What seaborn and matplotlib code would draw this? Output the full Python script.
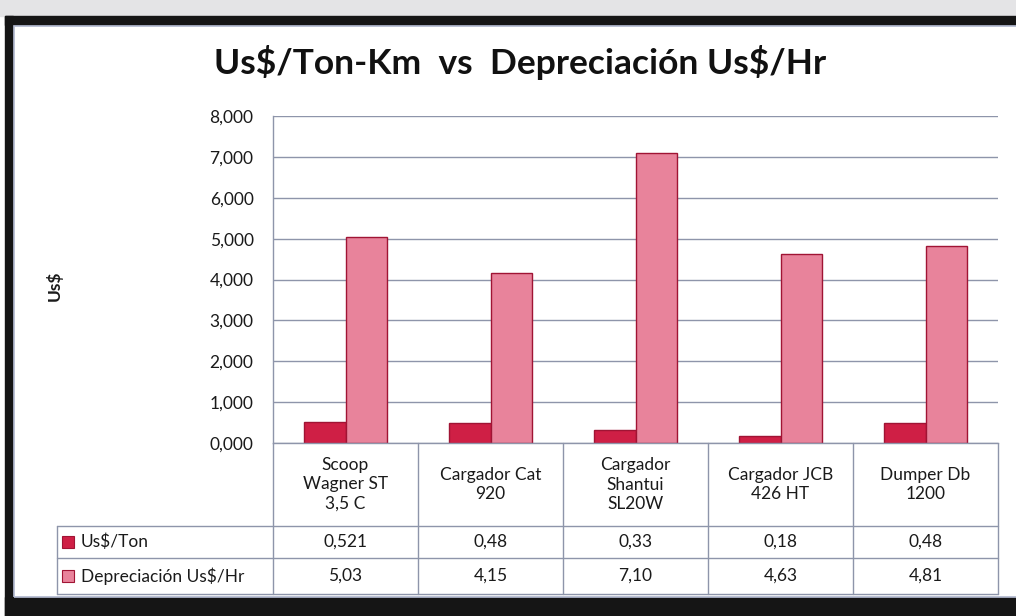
import matplotlib
matplotlib.use("Agg")
import matplotlib.pyplot as plt
from matplotlib.patches import Rectangle
import seaborn as sns
import pandas as pd

equipos = ["Scoop\nWagner ST\n3,5 C", "Cargador Cat\n920", "Cargador\nShantui\nSL20W",
           "Cargador JCB\n426 HT", "Dumper Db\n1200"]
series = ["Us$/Ton", "Depreciación Us$/Hr"]
us_ton = [0.521, 0.48, 0.33, 0.18, 0.48]
depreciacion = [5.03, 4.15, 7.10, 4.63, 4.81]
y_ticks = [0, 1, 2, 3, 4, 5, 6, 7, 8]

df = pd.DataFrame({
    "equipo": equipos * 2,
    "serie": [series[0]] * 5 + [series[1]] * 5,
    "valor": us_ton + depreciacion,
})

sns.set_style("white")
plt.rcParams["font.family"] = ["Lato", "DejaVu Sans"]
plt.rcParams["text.parse_math"] = False

W, H = 1016, 616
fig = plt.figure(figsize=(W / 100, H / 100), dpi=100)


def fx(px):
    return px / W


def fy(py):
    return 1 - py / H


# photo frame (paper at top, black border of the chart box)
fig.patches.append(Rectangle((0, fy(16)), 1, 16 / H, transform=fig.transFigure, color="#e4e4e6", zorder=0))
fig.patches.append(Rectangle((fx(5), 0), 8 / W, fy(16), transform=fig.transFigure, color="#151515", zorder=0))
fig.patches.append(Rectangle((fx(5), fy(25)), 1, 9 / H, transform=fig.transFigure, color="#151515", zorder=0))
fig.patches.append(Rectangle((fx(5), 0), 1, 19 / H, transform=fig.transFigure, color="#151515", zorder=0))
fig.patches.append(Rectangle((fx(14), fy(597)), 1, (597 - 26) / H, transform=fig.transFigure,
                             fill=False, edgecolor="#b8bfd6", linewidth=1.2, zorder=1))

left, right, top, bottom = 273, 998, 116, 443
ax = fig.add_axes([fx(left), fy(bottom), (right - left) / W, (bottom - top) / H])

rojo, rosa = "#cf1f45", "#e8839b"
sns.barplot(data=df, x="equipo", y="valor", hue="serie", palette=[rojo, rosa], saturation=1,
            width=0.57, gap=0, edgecolor="#a01434", linewidth=1.0, legend=False, ax=ax)

ax.set_xlim(-0.5, 4.5)
ax.set_ylim(0, 8)
ax.set_yticks(y_ticks)
ax.set_yticklabels([f"{t:.3f}".replace(".", ",") for t in y_ticks], fontsize=12.5, color="#1a1a1a")
ax.tick_params(axis="y", length=0, pad=14)
ax.set_xticks([])
ax.set_xlabel("")
ax.set_ylabel("")
ax.yaxis.grid(True, color="#8e95aa", linewidth=1.0)
ax.set_axisbelow(True)
for s in ["top", "right"]:
    ax.spines[s].set_visible(False)
for s in ["left", "bottom"]:
    ax.spines[s].set_color("#8e95aa")
    ax.spines[s].set_linewidth(1.0)

fig.text(fx(520), fy(62), "Us$/Ton-Km  vs  Depreciación Us$/Hr", fontsize=25.5, fontweight="bold",
         ha="center", va="center", color="#111111")
fig.text(fx(54), fy(286), "Us$", rotation=90, fontsize=12.5, fontweight="bold", ha="center", va="center",
         color="#1a1a1a")

# data table under the plot
tr = ax.get_xaxis_transform()
ax_h = bottom - top


def ya(py):
    return (bottom - py) / ax_h


grid_kw = dict(color="#8e95aa", linewidth=1.0, transform=tr, clip_on=False)
y_head, y_r1, y_r2 = ya(526), ya(558), ya(594)
x_lab = -0.5 - (left - 57) / 145
for i in range(6):
    ax.plot([i - 0.5, i - 0.5], [0, y_r2], **grid_kw)
ax.plot([x_lab, 4.5], [y_head, y_head], **grid_kw)
ax.plot([x_lab, 4.5], [y_r1, y_r1], **grid_kw)
ax.plot([x_lab, 4.5], [y_r2, y_r2], **grid_kw)
ax.plot([x_lab, x_lab], [y_head, y_r2], **grid_kw)

for i, eq in enumerate(equipos):
    ax.text(i, (0 + y_head) / 2, eq, transform=tr, ha="center", va="center", fontsize=12.5,
            linespacing=1.25, color="#1a1a1a", clip_on=False)
    ax.text(i, (y_head + y_r1) / 2, f"{us_ton[i]:g}".replace(".", ","), transform=tr,
            ha="center", va="center", fontsize=12.5, color="#1a1a1a", clip_on=False)
    ax.text(i, (y_r1 + y_r2) / 2, f"{depreciacion[i]:.2f}".replace(".", ","), transform=tr,
            ha="center", va="center", fontsize=12.5, color="#1a1a1a", clip_on=False)

for nombre, col, y0, y1 in [(series[0], rojo, y_head, y_r1), (series[1], rosa, y_r1, y_r2)]:
    ym = (y0 + y1) / 2
    fig.patches.append(Rectangle((fx(62), fy(bottom - ym * ax_h) - 6 / H), 12 / W, 12 / H,
                                 transform=fig.transFigure, facecolor=col, edgecolor="#a01434",
                                 linewidth=0.8, zorder=3))
    ax.text(x_lab + 24 / 145, ym, nombre, transform=tr, ha="left", va="center", fontsize=12.5,
            color="#1a1a1a", clip_on=False)

fig.savefig("out.png", dpi=100, facecolor="white")
